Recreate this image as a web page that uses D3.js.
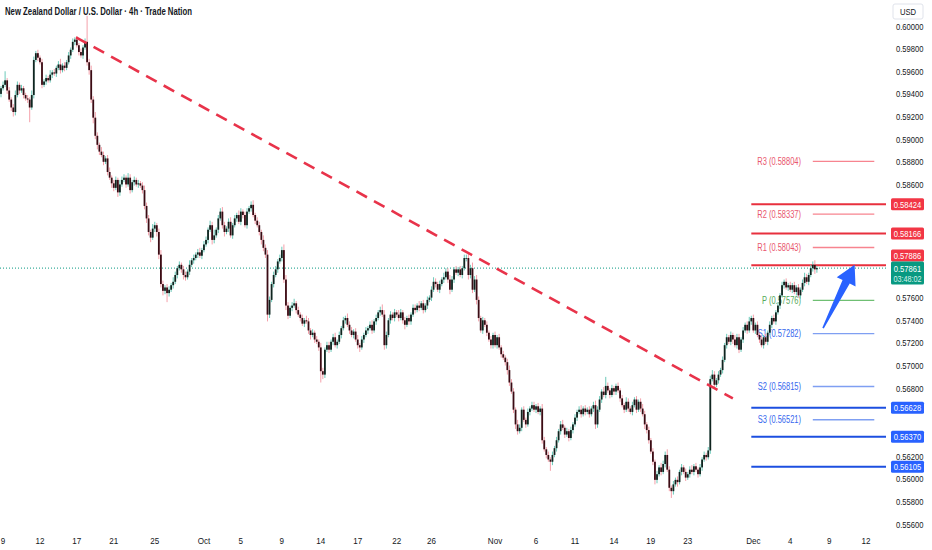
<!DOCTYPE html>
<html>
<head>
<meta charset="utf-8">
<script src="https://cdn.jsdelivr.net/npm/d3@7"></script>
<style>
  body { margin: 0; background: #fff; }
  svg { display: block; font-family: "Liberation Sans", Arial, sans-serif; }
</style>
</head>
<body>
<svg id="chart"></svg>
<script>
const title = "New Zealand Dollar / U.S. Dollar · 4h · Trade Nation";

// 4h closes, NZD/USD, oldest first
const firstOpen = 0.5940;
const closes = [
  0.5945,0.5948,0.5952,0.5943,0.5935,0.5928,0.5924,0.5939,0.5948,0.5943,0.5945,0.5939,0.5936,0.5935,0.5928,0.5939,0.5970,0.5976,0.5972,0.5968,
  0.5948,0.5951,0.5954,0.5952,0.5957,0.5959,0.5958,0.5963,0.5966,0.5961,0.5965,0.5963,0.5968,0.5974,0.5979,0.5986,0.5988,0.5983,0.5977,0.5974,
  0.5981,0.5986,0.5968,0.5961,0.5935,0.5919,0.5903,0.5895,0.5889,0.5886,0.5880,0.5883,0.5871,0.5866,0.5861,0.5857,0.5864,0.5853,0.5860,0.5864,
  0.5866,0.5860,0.5866,0.5855,0.5862,0.5864,0.5860,0.5861,0.5859,0.5855,0.5841,0.5830,0.5818,0.5813,0.5821,0.5824,0.5818,0.5798,0.5772,0.5766,
  0.5769,0.5764,0.5767,0.5771,0.5774,0.5780,0.5786,0.5789,0.5785,0.5780,0.5778,0.5783,0.5789,0.5793,0.5795,0.5798,0.5800,0.5797,0.5802,0.5807,
  0.5811,0.5820,0.5824,0.5811,0.5815,0.5820,0.5830,0.5836,0.5824,0.5818,0.5821,0.5827,0.5815,0.5824,0.5830,0.5833,0.5827,0.5836,0.5833,0.5824,
  0.5836,0.5839,0.5842,0.5833,0.5828,0.5824,0.5818,0.5811,0.5804,0.5798,0.5745,0.5758,0.5772,0.5780,0.5785,0.5792,0.5795,0.5802,0.5776,0.5753,
  0.5744,0.5751,0.5753,0.5755,0.5749,0.5745,0.5742,0.5737,0.5740,0.5739,0.5731,0.5727,0.5729,0.5723,0.5721,0.5716,0.5695,0.5692,0.5714,0.5718,
  0.5714,0.5721,0.5725,0.5718,0.5721,0.5727,0.5733,0.5740,0.5742,0.5736,0.5731,0.5727,0.5730,0.5723,0.5718,0.5716,0.5723,0.5727,0.5731,0.5733,
  0.5736,0.5731,0.5739,0.5742,0.5747,0.5749,0.5745,0.5718,0.5727,0.5740,0.5745,0.5742,0.5747,0.5745,0.5742,0.5747,0.5740,0.5736,0.5742,0.5739,
  0.5745,0.5751,0.5749,0.5753,0.5751,0.5755,0.5749,0.5753,0.5758,0.5760,0.5767,0.5774,0.5772,0.5767,0.5772,0.5776,0.5778,0.5783,0.5776,0.5767,
  0.5776,0.5785,0.5782,0.5785,0.5780,0.5786,0.5795,0.5795,0.5780,0.5786,0.5767,0.5776,0.5758,0.5742,0.5731,0.5740,0.5736,0.5729,0.5723,0.5718,
  0.5727,0.5718,0.5725,0.5716,0.5710,0.5707,0.5703,0.5696,0.5685,0.5677,0.5661,0.5648,0.5642,0.5645,0.5661,0.5652,0.5648,0.5659,0.5662,0.5665,
  0.5661,0.5664,0.5659,0.5662,0.5634,0.5626,0.5621,0.5617,0.5615,0.5621,0.5627,0.5634,0.5642,0.5648,0.5645,0.5639,0.5642,0.5636,0.5643,0.5648,
  0.5654,0.5659,0.5661,0.5657,0.5662,0.5659,0.5661,0.5657,0.5662,0.5665,0.5648,0.5661,0.5670,0.5677,0.5674,0.5682,0.5678,0.5674,0.5680,0.5677,
  0.5682,0.5678,0.5671,0.5665,0.5661,0.5668,0.5662,0.5659,0.5665,0.5670,0.5661,0.5668,0.5662,0.5657,0.5648,0.5643,0.5634,0.5624,0.5615,0.5599,
  0.5604,0.5610,0.5606,0.5613,0.5621,0.5608,0.5592,0.5589,0.5595,0.5599,0.5597,0.5606,0.5610,0.5606,0.5601,0.5604,0.5608,0.5606,0.5611,0.5608,
  0.5604,0.5610,0.5617,0.5621,0.5619,0.5625,0.5688,0.5692,0.5683,0.5687,0.5692,0.5696,0.5705,0.5718,0.5725,0.5721,0.5727,0.5723,0.5718,0.5725,
  0.5714,0.5723,0.5731,0.5736,0.5731,0.5739,0.5742,0.5731,0.5736,0.5727,0.5723,0.5718,0.5725,0.5721,0.5729,0.5736,0.5742,0.5739,0.5747,0.5753,
  0.5762,0.5771,0.5774,0.5769,0.5771,0.5767,0.5771,0.5765,0.5769,0.5762,0.5767,0.5773,0.5778,0.5774,0.5780,0.5786,0.5789,0.5785,0.57861
];

// wick lengths beyond the body, in pips
const upperWick = [
  2,3,8,2,3,2,3,4,3,2,3,2,2,3,2,4,3,2,3,2,
  3,2,3,2,4,2,3,2,3,5,2,3,2,3,2,3,2,3,2,3,
  2,3,23,3,4,3,5,3,2,4,3,2,3,4,2,3,3,2,4,3,
  3,2,4,3,2,3,2,3,2,3,4,3,3,2,4,3,2,3,4,3,
  2,3,3,2,4,3,2,3,2,3,3,2,4,2,3,2,3,4,2,3,
  3,2,4,3,5,2,3,3,4,3,2,3,4,2,3,2,4,3,2,3,
  3,2,3,4,2,3,3,2,4,3,4,3,2,3,3,2,3,3,5,4,
  3,2,3,4,2,3,2,3,2,4,3,2,3,2,3,2,4,3,2,3,
  3,2,3,4,2,3,2,3,2,4,3,3,2,3,4,2,3,2,3,2,
  3,4,2,3,2,3,5,4,3,2,3,2,3,2,4,3,2,3,2,3,
  2,3,3,2,4,2,3,2,3,2,3,4,3,2,3,2,4,3,3,4,
  3,2,3,2,3,2,3,3,4,3,5,3,4,3,2,3,2,3,2,3,
  2,3,2,3,2,3,2,3,4,3,3,2,4,3,2,3,2,3,2,3,
  3,2,3,2,4,3,2,3,2,3,2,3,2,3,4,2,3,2,3,2,
  3,2,3,4,2,3,2,3,2,3,4,3,3,2,4,8,3,2,3,2,
  2,3,2,3,2,4,3,2,3,2,3,2,3,4,3,2,3,2,3,2,
  3,2,4,3,3,5,3,2,3,2,3,2,3,2,3,2,3,4,2,3,
  2,3,2,3,2,3,3,4,3,2,3,2,3,2,3,2,3,2,4,3,
  3,2,3,2,3,4,2,3,2,3,2,3,2,3,2,3,2,3,2,3,
  2,3,2,3,2,3,2,3,2,3,2,3,4,3,2,3,3,4,2
];
const lowerWick = [
  3,2,2,3,2,3,4,3,2,3,2,3,2,3,13,2,3,2,3,2,
  3,2,3,2,2,3,2,3,2,3,2,3,2,2,3,2,3,2,3,2,
  3,2,3,4,3,5,3,4,3,2,3,2,3,2,4,3,2,4,3,2,
  2,3,2,3,2,3,2,3,2,3,3,4,3,4,2,3,4,4,3,4,
  3,8,3,2,3,2,3,2,3,4,3,2,3,2,3,2,3,2,3,2,
  2,3,2,4,3,2,3,2,3,4,2,3,2,3,2,3,2,3,3,2,
  3,2,3,2,3,2,3,4,3,3,6,3,2,3,2,3,2,3,3,4,
  3,2,3,2,3,2,3,2,3,2,3,4,2,3,2,3,10,4,3,2,
  3,2,3,2,3,2,3,2,3,2,3,2,3,2,3,4,2,3,2,3,
  2,3,2,3,2,3,2,4,3,2,3,2,3,2,3,2,3,4,2,3,
  3,2,3,2,3,2,3,2,3,2,3,2,3,2,3,2,3,2,3,4,
  2,3,2,3,2,3,2,3,4,3,3,2,4,3,2,3,2,3,2,3,
  3,2,3,2,3,2,3,4,3,2,3,4,3,2,3,2,3,2,3,2,
  2,3,2,3,3,2,3,2,8,3,2,3,2,3,2,3,2,3,2,3,
  2,3,2,3,2,3,2,3,2,3,4,3,2,3,2,3,2,3,2,3,
  3,2,3,2,3,2,3,2,3,2,3,2,3,2,4,3,3,2,3,4,
  3,2,3,2,3,2,3,6,3,2,4,2,3,2,3,2,3,2,3,2,
  3,2,3,2,3,2,3,2,3,2,3,2,3,2,3,2,3,4,2,3,
  3,2,3,2,3,2,3,2,3,2,3,2,3,2,3,2,3,2,3,2,
  3,2,3,2,3,2,3,2,3,2,3,2,3,2,3,2,3,4,3
];

const dateLabels = ["9","12","17","21","25","Oct","5","9","14","17","22","26","Nov","6","11","14","19","23","Dec","4","9","12"];
const dateBars   = [1,19,37,55,75,99,117,137,156,174,193,210,241,261,280,299,317,335,367,385,404,422];

const priceTicks = [0.556,0.558,0.560,0.562,0.564,0.566,0.568,0.570,0.572,0.574,0.576,0.578,
                    0.580,0.582,0.584,0.586,0.588,0.590,0.592,0.594,0.596,0.598,0.600];

const resistanceLevels = [0.58424, 0.58166, 0.57886];
const supportLevels = [0.56628, 0.56370, 0.56105];

const pivotNames = ["R3","R2","R1","P","S1","S2","S3"];
const pivotValues = [0.58804, 0.58337, 0.58043, 0.57576, 0.57282, 0.56815, 0.56521];

const trendBars = [36.6, 357];
const trendPrices = [0.5990, 0.5671];

const arrowBars = [401, 416.4];
const arrowPrices = [0.5733, 0.5789];

const lastPrice = 0.57861;
const countdown = "03:48:02";

const width = 932, height = 550;
const plotRight = 886;
const red = "#f23645", blue = "#2962ff", green = "#089981";

const svg = d3.select("#chart").attr("width", width).attr("height", height);
svg.append("rect").attr("width", width).attr("height", height).attr("fill", "#fff");

const x = d3.scaleLinear().domain([0, 400]).range([1, 821]);
const y = d3.scaleLinear().domain([0.556, 0.600]).range([524, 26]);

// squeeze text horizontally, the source uses a narrow face
function condense(sel, k) {
  sel.each(function () {
    const w = this.getComputedTextLength();
    d3.select(this).attr("textLength", w * k).attr("lengthAdjust", "spacingAndGlyphs");
  });
}

const pip = 0.0001;
const candles = closes.map((c, i) => {
  const o = i === 0 ? firstOpen : closes[i - 1];
  return {
    i, o, c,
    h: Math.max(o, c) + upperWick[i] * pip,
    l: Math.min(o, c) - lowerWick[i] * pip
  };
});

// last price dotted line
svg.append("line")
  .attr("x1", 0).attr("x2", plotRight)
  .attr("y1", y(lastPrice)).attr("y2", y(lastPrice))
  .attr("stroke", green).attr("stroke-width", 1)
  .attr("stroke-dasharray", "1,2");

// pivot lines
const pivotColor = (name) => name[0] === "R" ? "#f7848f" : name[0] === "P" ? "#6fbf73" : "#7f9ff2";
const pivotText = (name) => name[0] === "R" ? "#e9566e" : name[0] === "P" ? "#56a95a" : "#3567ee";

const pivots = pivotNames.map((n, k) => ({ n, v: pivotValues[k] }));
svg.append("g").selectAll("line")
  .data(pivots)
  .enter()
  .append("line")
  .attr("x1", x(396)).attr("x2", x(426))
  .attr("y1", d => y(d.v)).attr("y2", d => y(d.v))
  .attr("stroke", d => pivotColor(d.n))
  .attr("stroke-width", 1.3);

svg.append("g").selectAll("text")
  .data(pivots)
  .enter()
  .append("text")
  .attr("x", 801)
  .attr("y", d => y(d.v) + 3.5)
  .attr("text-anchor", "end")
  .attr("font-size", 10)
  .attr("fill", d => pivotText(d.n))
  .text(d => `${d.n} (${d.v.toFixed(5)})`)
  .call(condense, 0.75);

// key levels
const levels = resistanceLevels.map(v => ({ v, color: red }))
  .concat(supportLevels.map(v => ({ v, color: blue })));

svg.append("g").selectAll("line")
  .data(levels)
  .enter()
  .append("line")
  .attr("x1", x(366)).attr("x2", plotRight)
  .attr("y1", d => y(d.v)).attr("y2", d => y(d.v))
  .attr("stroke", d => d.color === red ? "#e8303e" : "#1c4fe0")
  .attr("stroke-width", 2);

// candles
const cg = svg.append("g");
cg.selectAll("line")
  .data(candles)
  .enter()
  .append("line")
  .attr("x1", d => x(d.i)).attr("x2", d => x(d.i))
  .attr("y1", d => y(d.h)).attr("y2", d => y(d.l))
  .attr("stroke", d => d.c >= d.o ? "#6cc9b9" : "#f4a0aa")
  .attr("stroke-width", 1);

cg.selectAll("rect")
  .data(candles)
  .enter()
  .append("rect")
  .attr("x", d => x(d.i) - 0.9)
  .attr("width", 1.8)
  .attr("y", d => y(Math.max(d.o, d.c)))
  .attr("height", d => Math.max(0.8, y(Math.min(d.o, d.c)) - y(Math.max(d.o, d.c))))
  .attr("fill", d => d.c >= d.o ? "#10241f" : "#3a0c14");

// trendline
svg.append("line")
  .attr("x1", x(trendBars[0])).attr("y1", y(trendPrices[0]))
  .attr("x2", x(trendBars[1])).attr("y2", y(trendPrices[1]))
  .attr("stroke", "#e8334a")
  .attr("stroke-width", 2.6)
  .attr("stroke-dasharray", "12,8");

// arrow
const tail = [x(arrowBars[0]), y(arrowPrices[0])];
const tip = [x(arrowBars[1]), y(arrowPrices[1])];
const len = Math.hypot(tip[0] - tail[0], tip[1] - tail[1]);
const ux = (tip[0] - tail[0]) / len, uy = (tip[1] - tail[1]) / len;
const px = -uy, py = ux;
const bx = tip[0] - ux * 19, by = tip[1] - uy * 19;
const pt = (cx, cy, w) => [cx + px * w, cy + py * w];
const arrowPts = [
  pt(tail[0], tail[1], 0.8), pt(bx, by, 4), pt(bx, by, 10.5), tip,
  pt(bx, by, -10.5), pt(bx, by, -4), pt(tail[0], tail[1], -0.8)
];
svg.append("path")
  .attr("d", d3.line()(arrowPts) + "Z")
  .attr("fill", blue);

// title
svg.append("text")
  .attr("x", 5).attr("y", 15)
  .attr("font-size", 10)
  .attr("font-weight", 600)
  .attr("fill", "#131722")
  .attr("textLength", 187)
  .attr("lengthAdjust", "spacingAndGlyphs")
  .text(title);

// level label boxes, the one next to the last price is pushed up
const boxW = 33, boxH = 12;
const levelBoxes = levels.map(d => {
  let cy = y(d.v);
  if (d.v === 0.57886) cy = y(lastPrice) - 6.5 - boxH / 2;
  return { ...d, cy };
});
const lastTop = y(lastPrice) - 6.5, lastH = 23;

// price axis, labels hidden under a box are skipped
const covered = (py) => levelBoxes.some(b => Math.abs(py - b.cy) < boxH / 2 + 1) ||
  (py > lastTop - 1 && py < lastTop + lastH + 1);
svg.append("g").selectAll("text")
  .data(priceTicks.filter(v => !covered(y(v))))
  .enter()
  .append("text")
  .attr("x", 896)
  .attr("y", d => y(d) + 3.5)
  .attr("font-size", 9.5)
  .attr("fill", "#131722")
  .text(d => d.toFixed(5))
  .call(condense, 0.8);

const lb = svg.append("g");
lb.selectAll("rect")
  .data(levelBoxes)
  .enter()
  .append("rect")
  .attr("x", 891).attr("width", boxW)
  .attr("y", d => d.cy - boxH / 2).attr("height", boxH)
  .attr("rx", 1.5)
  .attr("fill", d => d.color);
lb.selectAll("text")
  .data(levelBoxes)
  .enter()
  .append("text")
  .attr("x", 891 + boxW / 2)
  .attr("y", d => d.cy + 3.5)
  .attr("text-anchor", "middle")
  .attr("font-size", 9.5)
  .attr("fill", "#fff")
  .text(d => d.v.toFixed(5))
  .call(condense, 0.8);

// last price label
const ly = y(lastPrice);
svg.append("rect")
  .attr("x", 891).attr("width", boxW)
  .attr("y", lastTop).attr("height", lastH)
  .attr("rx", 1.5)
  .attr("fill", green);
svg.append("text")
  .attr("x", 891 + boxW / 2).attr("y", ly + 3.5)
  .attr("text-anchor", "middle").attr("font-size", 9.5).attr("fill", "#fff")
  .text(lastPrice.toFixed(5))
  .call(condense, 0.8);
svg.append("text")
  .attr("x", 891 + boxW / 2).attr("y", ly + 13.5)
  .attr("text-anchor", "middle").attr("font-size", 9).attr("fill", "#d8f2ec")
  .text(countdown)
  .call(condense, 0.8);

// currency badge
svg.append("rect")
  .attr("x", 893).attr("y", 4).attr("width", 30).attr("height", 15)
  .attr("rx", 2).attr("fill", "#fff").attr("stroke", "#e0e3eb");
svg.append("text")
  .attr("x", 908).attr("y", 15)
  .attr("text-anchor", "middle")
  .attr("font-size", 9).attr("fill", "#131722")
  .text("USD")
  .call(condense, 0.85);

// time axis
svg.append("g").selectAll("text")
  .data(dateLabels)
  .enter()
  .append("text")
  .attr("x", (d, k) => x(dateBars[k]))
  .attr("y", 543.5)
  .attr("text-anchor", "middle")
  .attr("font-size", 9.5)
  .attr("fill", "#131722")
  .text(d => d)
  .call(condense, 0.85);
</script>
</body>
</html>
